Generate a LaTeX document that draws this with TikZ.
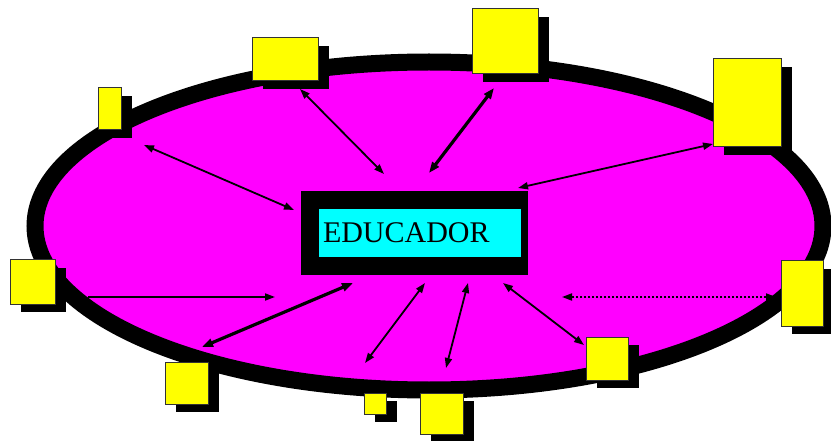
\documentclass[tikz,border=0pt]{standalone}
\usepackage{fontspec}
\setmainfont{Liberation Serif}
\usetikzlibrary{arrows.meta,shadows}
\definecolor{mag}{RGB}{255,0,255}
\definecolor{yel}{RGB}{255,255,0}
\definecolor{cya}{RGB}{0,255,255}
\begin{document}
\begin{tikzpicture}[x=1pt,y=-1pt,
  ybox/.style={draw=black!80,line width=1pt,fill=yel,inner sep=0pt,
    general shadow={fill=black,shadow xshift=11pt,shadow yshift=-8pt}},
  link/.style={line width=1.8pt,{Triangle[length=10pt,width=7pt]}-{Triangle[length=10pt,width=7pt]}},
  thick link/.style={line width=3.2pt,{Triangle[length=11pt,width=8pt]}-{Triangle[length=11pt,width=8pt]}},
  one way/.style={line width=1.8pt,-{Triangle[length=10pt,width=7pt]}},
  dot link/.style={line width=1.8pt,dash pattern=on 2pt off 2pt,{Triangle[length=10pt,width=7pt]}-{Triangle[length=10pt,width=7pt]}}]
\useasboundingbox (0,0) rectangle (831,441);
% ellipse
\draw[line width=17pt,fill=mag] (429,226) ellipse [x radius=394, y radius=164];
% educador
\fill[black] (301,191) rectangle (528,275);
\node[fill=cya,draw=black,line width=0.5pt,minimum width=203pt,minimum height=49pt,inner sep=5pt,
  align=left,font=\fontsize{30}{30}\selectfont,text width=193pt] (edu) at (419.5,232.5) {EDUCADOR};
% boxes
\node[ybox,minimum width=23pt,minimum height=42pt] (b1) at (109.5,109) {};
\node[ybox,minimum width=66pt,minimum height=43pt] (b2) at (285,59.5) {};
\node[ybox,minimum width=66pt,minimum height=65pt] (b3) at (505,41.5) {};
\node[ybox,minimum width=68pt,minimum height=88pt] (b4) at (747,103) {};
\node[ybox,minimum width=45pt,minimum height=44pt] (b5) at (32.5,282) {};
\node[ybox,minimum width=43pt,minimum height=42pt] (b6) at (186.5,383) {};
\node[ybox,minimum width=22pt,minimum height=21pt] (b7) at (375,403.5) {};
\node[ybox,minimum width=43pt,minimum height=41pt] (b8) at (441.5,413.5) {};
\node[ybox,minimum width=42pt,minimum height=43pt] (b9) at (607,358.5) {};
\node[ybox,minimum width=42pt,minimum height=65pt] (b10) at (802,293.5) {};
% arrow end points
\coordinate (a1s) at (144,145); \coordinate (a1e) at (294,210);
\coordinate (a2s) at (300,89);  \coordinate (a2e) at (384,174);
\coordinate (a3s) at (494,88);  \coordinate (a3e) at (429,173);
\coordinate (a4s) at (713,144); \coordinate (a4e) at (518,188);
\coordinate (a5s) at (88,297);  \coordinate (a5e) at (275,297);
\coordinate (a6s) at (202,347); \coordinate (a6e) at (353,283);
\coordinate (a7s) at (365,363); \coordinate (a7e) at (425,283);
\coordinate (a8s) at (446,368); \coordinate (a8e) at (468,283);
\coordinate (a9s) at (584,345); \coordinate (a9e) at (503,283);
\coordinate (a10s) at (776,297); \coordinate (a10e) at (562,297);
\draw[link] (a1s) -- (a1e);
\draw[link] (a2s) -- (a2e);
\draw[thick link] (a3s) -- (a3e);
\draw[link] (a4s) -- (a4e);
\draw[one way] (a5s) -- (a5e);
\draw[thick link] (a6s) -- (a6e);
\draw[link] (a7s) -- (a7e);
\draw[link] (a8s) -- (a8e);
\draw[link] (a9s) -- (a9e);
\draw[dot link] (a10s) -- (a10e);
\end{tikzpicture}
\end{document}
